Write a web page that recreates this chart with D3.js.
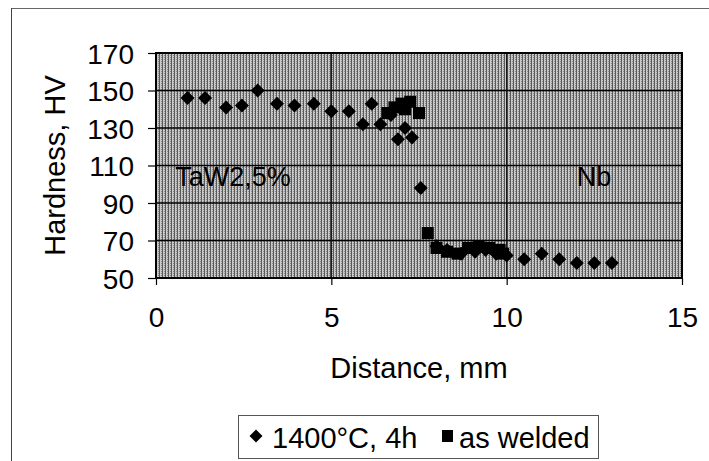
<!DOCTYPE html>
<html><head><meta charset="utf-8">
<script src="https://cdn.jsdelivr.net/npm/d3@7"></script>
<style>body{margin:0;background:#fff}svg{display:block}text{font-family:"Liberation Sans",Arial,sans-serif;fill:#000}</style>
</head><body>
<script>
const xTicks = [0, 5, 10, 15];
const yTicks = [50, 70, 90, 110, 130, 150, 170];
const annealedX = [0.9,1.4,2.0,2.45,2.9,3.45,3.95,4.5,5.0,5.5,5.9,6.15,6.4,6.7,6.9,7.1,7.3,7.55,8.0,8.3,8.7,9.1,9.4,9.7,10.0,10.5,11.0,11.5,12.0,12.5,13.0];
const annealedY = [146,146,141,142,150,143,142,143,139,139,132,143,132,137,124,130,125,98,67,65,63,64,65,63,62,60,63,60,58,58,58];
const weldedX = [6.6,6.8,7.0,7.1,7.25,7.5,7.75,8.0,8.3,8.6,8.9,9.2,9.5,9.8,9.9];
const weldedY = [138,141,143,140,144,138,74,66,64,63,66,67,66,65,63];
const seriesNames = ["1400°C, 4h", "as welded"];
const labels = [{t:"TaW2,5%", x:0.55, y:99}, {t:"Nb", x:12.0, y:99}];

const W = 709, H = 461;
const m = {l:156, t:53, r:682, b:278};
const svg = d3.select("body").append("svg").attr("width", W).attr("height", H);
const defs = svg.append("defs");
const pat = defs.append("pattern").attr("id","dither").attr("patternUnits","userSpaceOnUse").attr("width",3).attr("height",2);
pat.append("rect").attr("width",3).attr("height",2).attr("fill","#c9c9c9");
pat.append("rect").attr("x",0).attr("width",1).attr("height",2).attr("fill","#5a5a5a");
pat.append("rect").attr("x",2).attr("y",1).attr("width",1).attr("height",1).attr("fill","#8a8a8a");

// outer frame (top + left)
svg.append("line").attr("x1",11).attr("y1",8.5).attr("x2",W).attr("y2",8.5).attr("stroke","#666").attr("stroke-width",1);
svg.append("line").attr("x1",11.5).attr("y1",8).attr("x2",11.5).attr("y2",H).attr("stroke","#444").attr("stroke-width",1);

const x = d3.scaleLinear().domain([0,15]).range([m.l, m.r]);
const y = d3.scaleLinear().domain([50,170]).range([m.b, m.t]);

svg.append("rect").attr("x",m.l).attr("y",m.t).attr("width",m.r-m.l).attr("height",m.b-m.t).attr("fill","url(#dither)");

// gridlines
svg.append("g").selectAll("line").data(yTicks.slice(1,-1)).join("line")
  .attr("x1",m.l).attr("x2",m.r).attr("y1",d=>y(d)).attr("y2",d=>y(d))
  .attr("stroke","#000").attr("stroke-width",1.6);
svg.append("g").selectAll("line").data(xTicks.slice(1,-1)).join("line")
  .attr("y1",m.t).attr("y2",m.b).attr("x1",d=>x(d)).attr("x2",d=>x(d))
  .attr("stroke","#111").attr("stroke-width",1.2);

// axes
const ax = svg.append("g").attr("transform",`translate(0,${m.b})`)
  .call(d3.axisBottom(x).tickValues(xTicks).tickSize(7).tickPadding(22).tickFormat(d3.format("d")));
const ay = svg.append("g").attr("transform",`translate(${m.l},0)`)
  .call(d3.axisLeft(y).tickValues(yTicks).tickSize(8).tickPadding(14).tickFormat(d3.format("d")));
[ax, ay].forEach(g => {
  g.select(".domain").remove();
  g.selectAll("line").attr("stroke","#000").attr("stroke-width",1.2);
  g.selectAll("text").attr("font-size",28).attr("font-family","Liberation Sans, Arial, sans-serif").attr("fill","#000");
});
ay.selectAll("text").attr("dy","0.36em");

// plot border
svg.append("rect").attr("x",m.l).attr("y",m.t).attr("width",m.r-m.l).attr("height",m.b-m.t)
  .attr("fill","none").attr("stroke","#000").attr("stroke-width",2);

// annotations
svg.append("g").selectAll("text").data(labels).join("text")
  .attr("x",d=>x(d.x)).attr("y",d=>y(d.y)).attr("font-size",27).text(d=>d.t);

// markers
const diamond = d3.symbol().type(d3.symbolDiamond2 || d3.symbolDiamond).size(100);
const dpath = (cx,cy,r)=>`M${cx},${cy-r}L${cx+r},${cy}L${cx},${cy+r}L${cx-r},${cy}Z`;
svg.append("g").selectAll("path").data(annealedX.map((v,i)=>[v,annealedY[i]])).join("path")
  .attr("d",d=>dpath(x(d[0]),y(d[1]),7)).attr("fill","#000");
svg.append("g").selectAll("rect").data(weldedX.map((v,i)=>[v,weldedY[i]])).join("rect")
  .attr("x",d=>x(d[0])-6).attr("y",d=>y(d[1])-6).attr("width",12).attr("height",12).attr("fill","#000");

// axis titles
svg.append("text").attr("x",(m.l+m.r)/2+0).attr("y",378).attr("text-anchor","middle").attr("font-size",29).text("Distance, mm");
svg.append("text").attr("transform",`translate(65,${(m.t+m.b)/2}) rotate(-90)`).attr("text-anchor","middle").attr("font-size",29).text("Hardness, HV");

// legend
const lg = svg.append("g");
lg.append("rect").attr("x",238.5).attr("y",415.5).attr("width",360).attr("height",43).attr("fill","#fff").attr("stroke","#555").attr("stroke-width",1);
lg.append("path").attr("d",dpath(256,436,6.5)).attr("fill","#000");
lg.append("text").attr("x",272).attr("y",448).attr("font-size",29).text(seriesNames[0]);
lg.append("rect").attr("x",442).attr("y",430).attr("width",11).attr("height",12).attr("fill","#000");
lg.append("text").attr("x",459).attr("y",448).attr("font-size",29).text(seriesNames[1]);
</script>
</body></html>
